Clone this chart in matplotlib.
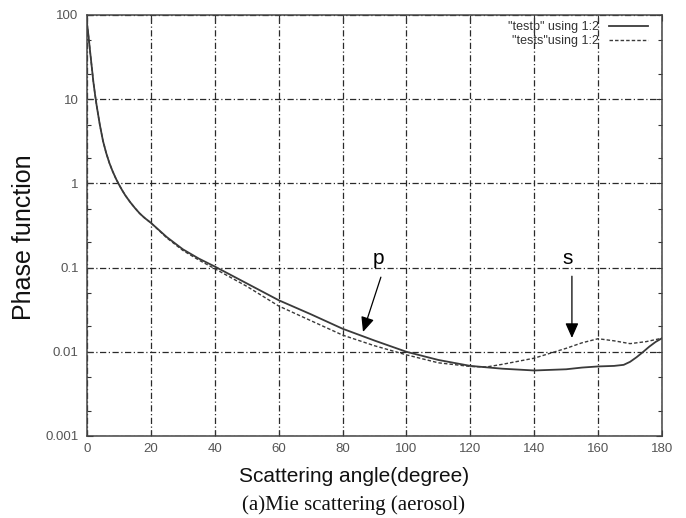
# Mie scattering phase function (aerosol), p and s polarisation
import matplotlib
matplotlib.use('Agg')
import matplotlib.pyplot as plt
from matplotlib.ticker import LogLocator, FixedLocator, FixedFormatter, NullFormatter

# Data
angle_p = [0, 0.5, 1, 1.5, 2, 2.5, 3, 4, 5, 6, 7, 8, 9, 10, 11, 12, 13.5, 15,
           16.5, 18, 20, 25, 30, 35, 40, 50, 60, 70, 80, 90, 100, 110, 120, 130,
           140, 150, 155, 160, 165, 168, 170, 172, 174, 176, 178, 180]
phase_p = [80, 55, 36, 24, 16, 11.5, 8.5, 5.0, 3.2, 2.3, 1.75, 1.4, 1.15, 0.97,
           0.83, 0.72, 0.6, 0.51, 0.44, 0.39, 0.34, 0.23, 0.165, 0.128, 0.103,
           0.065, 0.041, 0.028, 0.0188, 0.0136, 0.0100, 0.0080, 0.0068, 0.0063,
           0.0060, 0.0062, 0.0065, 0.0067, 0.0068, 0.0070, 0.0076, 0.0086,
           0.0099, 0.0115, 0.0131, 0.0145]

angle_s = [0, 0.5, 1, 1.5, 2, 2.5, 3, 4, 5, 6, 7, 8, 9, 10, 11, 12, 13.5, 15,
           16.5, 18, 20, 25, 30, 35, 40, 50, 60, 70, 80, 90, 100, 110, 120, 125,
           130, 140, 150, 155, 160, 165, 170, 175, 180]
phase_s = [80, 55, 36, 24, 16, 11.5, 8.5, 5.0, 3.2, 2.3, 1.75, 1.4, 1.15, 0.97,
           0.83, 0.72, 0.6, 0.51, 0.44, 0.39, 0.34, 0.225, 0.16, 0.123, 0.097,
           0.060, 0.035, 0.0235, 0.0158, 0.0118, 0.0092, 0.0074, 0.0067, 0.0066,
           0.0071, 0.0084, 0.0110, 0.0128, 0.0143, 0.0135, 0.0125, 0.0132, 0.0145]

x_ticks = [0, 20, 40, 60, 80, 100, 120, 140, 160, 180]
y_ticks = [0.001, 0.01, 0.1, 1, 10, 100]
y_tick_labels = ['0.001', '0.01', '0.1', '1', '10', '100']

legend_labels = ['"testp" using 1:2', '"tests"using 1:2']

sans = ['Liberation Sans', 'DejaVu Sans']
tick_font = ['Liberation Sans Narrow', 'Liberation Sans', 'DejaVu Sans']

fig = plt.figure(figsize=(6.86, 5.18), dpi=100)
ax = fig.add_axes([87 / 686, 1 - 436 / 518, 575 / 686, 421 / 518])

line_col = '#3a3a3a'
ax.plot(angle_p, phase_p, color=line_col, lw=1.3, label=legend_labels[0])
ax.plot(angle_s, phase_s, color=line_col, lw=1.0, linestyle=(0, (2.5, 1.5)),
        label=legend_labels[1])

ax.set_yscale('log')
ax.set_xlim(0, 180)
ax.set_ylim(0.001, 100)

ax.xaxis.set_major_locator(FixedLocator(x_ticks))
ax.yaxis.set_major_locator(FixedLocator(y_ticks))
ax.yaxis.set_major_formatter(FixedFormatter(y_tick_labels))
ax.yaxis.set_minor_locator(LogLocator(base=10, subs=(2, 5)))
ax.yaxis.set_minor_formatter(NullFormatter())

ax.tick_params(which='both', direction='in', top=True, right=True,
               color='#333333', labelcolor='#555555', labelsize=9.5)
ax.tick_params(which='major', length=4, width=0.8)
ax.tick_params(which='minor', length=3, width=0.8)
ax.tick_params(axis='x', pad=5)
ax.tick_params(axis='y', pad=6)
for lab in ax.get_xticklabels() + ax.get_yticklabels():
    lab.set_family(tick_font)

ax.grid(True, which='major', color='#2a2a2a', lw=0.9, linestyle=(0, (5, 2, 1, 2)))

for sp in ax.spines.values():
    sp.set_color('#444444')
    sp.set_linewidth(1.1)

# arrows marking the two curves
ax.annotate('', xy=(86.4, 0.0172), xytext=(92.0, 0.077),
            arrowprops=dict(arrowstyle='-|>,head_length=0.9,head_width=0.4',
                            color='black', lw=0.9, shrinkA=0, shrinkB=0))
ax.text(91.1, 0.13, 'p', fontsize=15, ha='center', va='center', family=sans)
ax.annotate('', xy=(151.8, 0.0146), xytext=(151.8, 0.079),
            arrowprops=dict(arrowstyle='-|>,head_length=0.9,head_width=0.4',
                            color='black', lw=0.9, shrinkA=0, shrinkB=0))
ax.text(150.6, 0.13, 's', fontsize=15, ha='center', va='center', family=sans)

leg = ax.legend(loc='upper right', bbox_to_anchor=(0.975, 0.985), markerfirst=False,
                frameon=False, fontsize=9, handlelength=3.1, handletextpad=0.8,
                labelspacing=0.15, borderpad=0, borderaxespad=0)
for t in leg.get_texts():
    t.set_family(sans)
    t.set_color('#333333')

fig.text(24 / 686, 1 - 237 / 518, 'Phase function', rotation=90, fontsize=18,
         ha='center', va='center', family=sans, color='#111111')
fig.text(354 / 686, 1 - 476 / 518, 'Scattering angle(degree)', fontsize=15,
         ha='center', va='center', family=sans, color='#111111')
fig.text(354 / 686, 1 - 505 / 518, '(a)Mie scattering (aerosol)', fontsize=15,
         ha='center', va='center', family=['Liberation Serif', 'DejaVu Serif'],
         color='#111111')

fig.savefig('out.png', dpi=100)
